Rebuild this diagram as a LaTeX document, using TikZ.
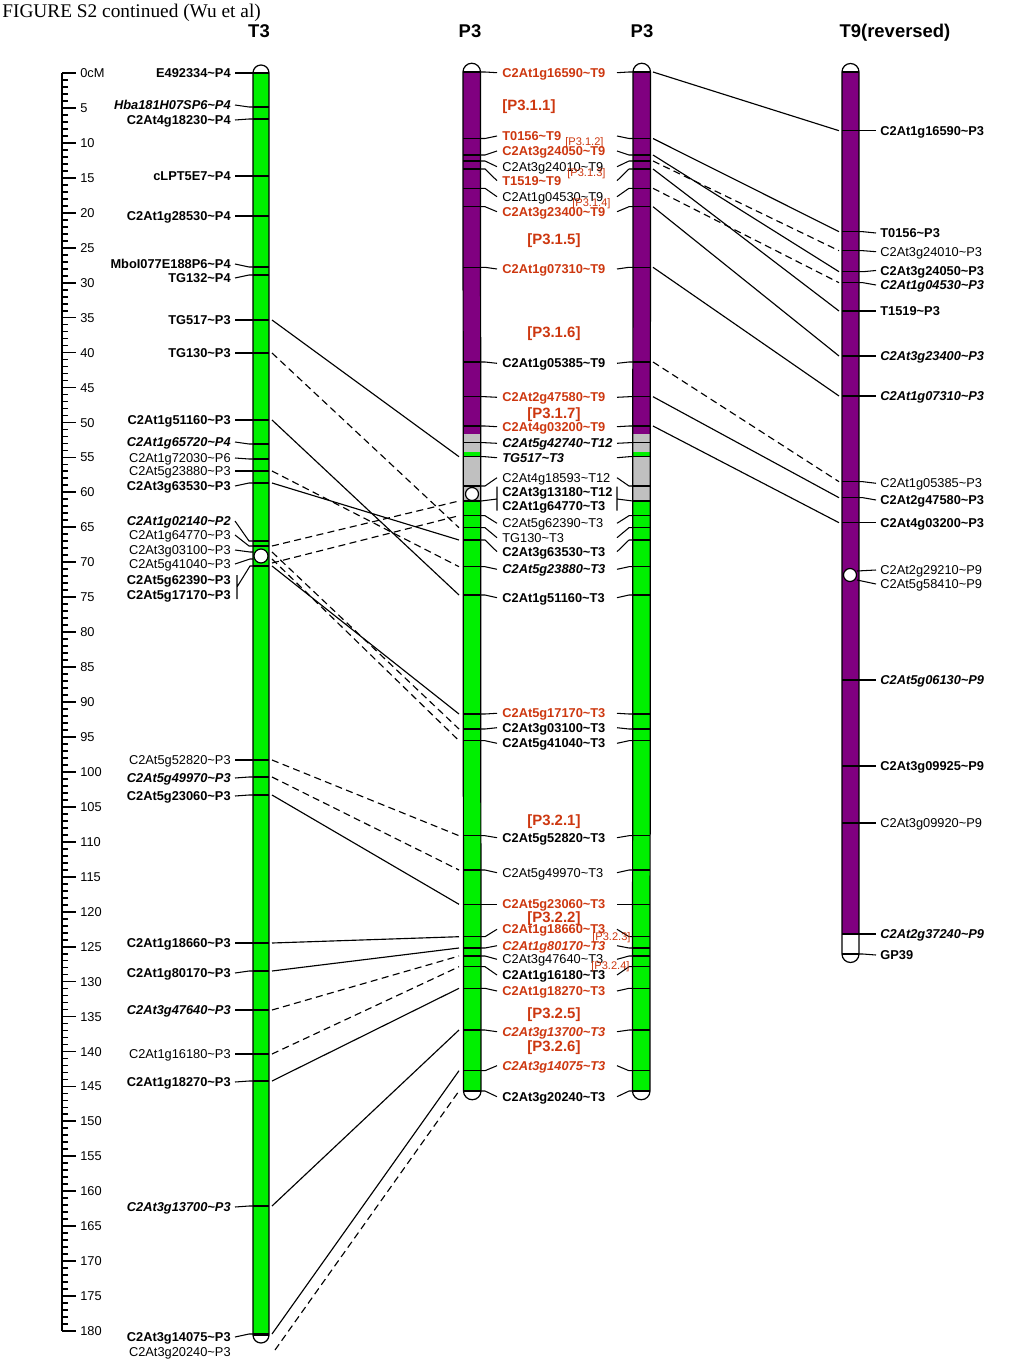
\documentclass[tikz,border=0pt]{standalone}
\usepackage{fontspec}
\setmainfont{Liberation Sans}
\newfontfamily\titlefont{Liberation Serif}
\definecolor{chrgreen}{RGB}{0,240,0}
\definecolor{chrpurple}{RGB}{128,0,128}
\definecolor{chrgray}{RGB}{192,192,192}
\definecolor{mkred}{RGB}{205,55,15}
\newcommand\tlde{\textasciitilde}

\begin{document}
\begin{tikzpicture}
    [x=0.02cm,y=-0.02cm,
     chrom/.style={draw, line width=0.7pt},
     mtick/.style={line width=0.7pt},
     lead/.style={line width=0.6pt},
     lnk/.style={line width=0.65pt},
     lnkd/.style={lnk, dash pattern=on 4pt off 2.5pt},
     ruler/.style={line width=1pt},
     mk/.style={inner sep=0pt, text height=5.2pt, text depth=0pt, font=\fontsize{7.3}{8}\selectfont},
     mkn/.style={mk},
     mkb/.style={mk, font=\fontsize{7.3}{8}\selectfont\bfseries},
     mkbi/.style={mk, font=\fontsize{7.3}{8}\selectfont\bfseries\itshape},
     mkrb/.style={mkb, text=mkred},
     mkrbi/.style={mkbi, text=mkred},
     hd/.style={inner sep=0pt, text height=7.5pt, text depth=0pt, font=\fontsize{10.5}{12}\selectfont\bfseries},
     grp/.style={inner sep=0pt, text height=6.1pt, text depth=0pt, text=mkred, font=\fontsize{8.5}{10}\selectfont\bfseries},
     sgrp/.style={inner sep=0pt, text height=4.5pt, text depth=0pt, text=mkred, font=\fontsize{6.3}{7}\selectfont}]
  \useasboundingbox (0,0) rectangle (1024,1365);

  \node[anchor=west, inner sep=0pt, text height=7.3pt, text depth=0pt, font=\titlefont\fontsize{11}{13}\selectfont] (title) at (2,11) {FIGURE S2 continued (Wu et al)};
  \node[hd] (hT3) at (259,31) {T3};
  \node[hd] (hP3a) at (470,31) {P3};
  \node[hd] (hP3b) at (642,31) {P3};
  \node[hd] (hT9) at (895,31) {T9(reversed)};

  % scale in cM
  \draw[ruler] (62,73) -- (62,1331);
  \foreach \c in {0,...,180}
    \draw[ruler] (62,{73+6.989*\c}) -- ++(6,0);
  \foreach \c in {5,10,...,180} {
    \draw[ruler] (62,{73+6.989*\c}) -- ++(14,0);
    \node[mkn, anchor=west] (cm\c) at (80,{73+6.989*\c}) {\c};
  }
  \draw[ruler] (62,73) -- ++(14,0);
  \node[mkn, anchor=west] (cm0) at (80,73) {0cM};

  % chromosomes
  \fill[chrgreen] (253,73) rectangle (269,1335);
  \draw[chrom] (253,73) arc[start angle=180, end angle=0, radius=0.16cm] -- (269,1335)
    arc[start angle=0, end angle=-180, radius=0.16cm] -- cycle;
  \draw[chrom] (253,73) -- (269,73) (253,1335) -- (269,1335);

  \foreach \xl/\xr in {463/481,633/650} {
    \fill[chrpurple] (\xl,72) rectangle (\xr,434);
    \fill[chrgray] (\xl,434) rectangle (\xr,452);
    \fill[chrgreen] (\xl,452) rectangle (\xr,457);
    \fill[chrgray] (\xl,457) rectangle (\xr,501);
    \fill[chrgreen] (\xl,501) rectangle (\xr,1091);
    \draw[chrom] (\xl,72) arc[start angle=180, end angle=0, radius=0.175cm] -- (\xr,1091)
      arc[start angle=0, end angle=-180, radius=0.175cm] -- cycle;
    \draw[chrom] (\xl,72) -- (\xr,72) (\xl,1091) -- (\xr,1091);
  }

  \fill[chrpurple] (842,72) rectangle (859,934);
  \draw[chrom] (842,72) arc[start angle=180, end angle=0, radius=0.17cm] -- (859,954)
    arc[start angle=0, end angle=-180, radius=0.17cm] -- cycle;
  \draw[chrom] (842,72) -- (859,72);

  % T3 markers
  \foreach \id/\ym/\yl/\sty/\lab in {
      E492334/73/73/mkb/E492334\tlde P4,
      Hba181/107/105/mkbi/Hba181H07SP6\tlde P4,
      4g18230/119/120/mkb/C2At4g18230\tlde P4,
      cLPT5E7/176/176/mkb/cLPT5E7\tlde P4,
      1g28530/216/216/mkb/C2At1g28530\tlde P4,
      MboI077/267/264/mkb/MboI077E188P6\tlde P4,
      TG132/275/278/mkb/TG132\tlde P4,
      TG517/320/320/mkb/TG517\tlde P3,
      TG130/353/353/mkb/TG130\tlde P3,
      1g51160/420/420/mkb/C2At1g51160\tlde P3,
      1g65720/444/442/mkbi/C2At1g65720\tlde P4,
      1g72030/459/458/mkn/C2At1g72030\tlde P6,
      5g23880/471/471/mkn/C2At5g23880\tlde P3,
      3g63530/483/486/mkb/C2At3g63530\tlde P3,
      1g02140/541/521/mkbi/C2At1g02140\tlde P2,
      1g64770/546/535/mkn/C2At1g64770\tlde P3,
      5g52820/760/760/mkn/C2At5g52820\tlde P3,
      5g49970/777/778/mkbi/C2At5g49970\tlde P3,
      5g23060/795/796/mkb/C2At5g23060\tlde P3,
      1g18660/943/943/mkb/C2At1g18660\tlde P3,
      1g80170/971/973/mkb/C2At1g80170\tlde P3,
      3g47640/1010/1010/mkbi/C2At3g47640\tlde P3,
      1g16180/1054/1054/mkn/C2At1g16180\tlde P3,
      1g18270/1081/1082/mkb/C2At1g18270\tlde P3,
      3g13700/1206/1207/mkbi/C2At3g13700\tlde P3,
      3g14075/1334/1337/mkb/C2At3g14075\tlde P3} {
    \draw[mtick] (253,\ym) -- (269,\ym);
    \draw[lead] (235,\yl) -- (249,\ym) -- (253,\ym);
    \node[\sty, anchor=east] (t3-\id) at (231,\yl) {\lab};
    \coordinate (t3-\id-x) at (272,\ym);
  }
  \foreach \id/\ym/\yl in {3g03100/552/550, 5g41040/559/564} {
    \draw[lead] (235,\yl) -- (250,\ym) -- (253,\ym);
    \node[mkn, anchor=east] (t3-\id) at (231,\yl) {C2At\id\tlde P3};
    \coordinate (t3-\id-x) at (272,\ym);
  }
  \draw[mtick] (253,566) -- (269,566);
  \draw[lead] (237,575) -- (237,599) (237,587) -- (250,566) -- (253,566);
  \node[mkb, anchor=east] (t3-5g62390) at (231,580) {C2At5g62390\tlde P3};
  \node[mkb, anchor=east] (t3-5g17170) at (231,595) {C2At5g17170\tlde P3};
  \coordinate (t3-5g62390-x) at (272,563);
  \coordinate (t3-5g17170-x) at (272,566);
  \node[mkn, anchor=east] (t3-3g20240) at (231,1352) {C2At3g20240\tlde P3};
  \coordinate (t3-3g20240-x) at (275,1350);
  \draw[chrom, fill=white] (261,556) circle[radius=0.14cm];

  % P3 markers, same on both copies
  \foreach \id/\ym/\yl/\sty/\lab in {
      1g16590/72/72.7/mkrb/C2At1g16590\tlde T9,
      T0156/138.5/136/mkrb/T0156\tlde T9,
      3g24050/155/151/mkrb/C2At3g24050\tlde T9,
      3g24010/161/166.7/mkn/C2At3g24010\tlde T9,
      T1519/169/180.7/mkrb/T1519\tlde T9,
      1g04530/188.3/196.7/mkn/C2At1g04530\tlde T9,
      3g23400/206.7/211.7/mkrb/C2At3g23400\tlde T9,
      1g07310/267.3/269/mkrb/C2At1g07310\tlde T9,
      1g05385/362/363.3/mkb/C2At1g05385\tlde T9,
      2g47580/396.7/397.3/mkrb/C2At2g47580\tlde T9,
      4g03200/426/426.7/mkrb/C2At4g03200\tlde T9,
      5g42740/442.7/443.3/mkbi/C2At5g42740\tlde T12,
      TG517/456.7/457.7/mkbi/TG517\tlde T3,
      4g18593/486/477.7/mkn/C2At4g18593\tlde T12,
      5g62390/515.7/523.3/mkn/C2At5g62390\tlde T3,
      TG130/527.7/537.7/mkn/TG130\tlde T3,
      3g63530/540/551.7/mkb/C2At3g63530\tlde T3,
      5g23880/566.7/569.3/mkbi/C2At5g23880\tlde T3,
      1g51160/595/597.7/mkb/C2At1g51160\tlde T3,
      5g17170/714/713.3/mkrb/C2At5g17170\tlde T3,
      3g03100/729/727.7/mkb/C2At3g03100\tlde T3,
      5g41040/740.7/743.3/mkb/C2At5g41040\tlde T3,
      5g52820/835.7/837.7/mkb/C2At5g52820\tlde T3,
      5g49970/870/872.7/mkn/C2At5g49970\tlde T3,
      5g23060/904.3/904.3/mkrb/C2At5g23060\tlde T3,
      1g18660/936.7/929.3/mkrb/C2At1g18660\tlde T3,
      1g80170/948/945.7/mkrbi/C2At1g80170\tlde T3,
      3g47640/956/959.3/mkn/C2At3g47640\tlde T3,
      1g16180/966.7/975/mkb/C2At1g16180\tlde T3,
      1g18270/988.3/991/mkrb/C2At1g18270\tlde T3,
      3g13700/1030/1031.7/mkrbi/C2At3g13700\tlde T3,
      3g14075/1070.7/1065.7/mkrbi/C2At3g14075\tlde T3,
      3g20240/1091/1096.7/mkb/C2At3g20240\tlde T3} {
    \draw[mtick] (463,\ym) -- (481,\ym) (633,\ym) -- (650,\ym);
    \draw[lead] (481,\ym) -- (485,\ym) -- (497,\yl) (617,\yl) -- (629,\ym) -- (633,\ym);
    \node[\sty, anchor=west] (p3-\id) at (502,\yl) {\lab};
    \coordinate (p3a-\id) at (459,\ym);
    \coordinate (p3b-\id) at (653,\ym);
  }
  \draw[mtick] (463,501) -- (481,501) (633,501) -- (650,501);
  \draw[lead] (497,486.5) -- (497,510.5) (497,499) -- (481,501);
  \draw[lead] (617,486.5) -- (617,510.5) (617,499) -- (633,501);
  \node[mkb, anchor=west] (p3-3g13180) at (502,491.7) {C2At3g13180\tlde T12};
  \node[mkb, anchor=west] (p3-1g64770) at (502,506) {C2At1g64770\tlde T3};
  \coordinate (p3a-1g64770) at (459,501);
  \draw[chrom, fill=white] (472,494) circle[radius=0.13cm];

  % P3 segments
  \foreach \id/\x/\y/\lab in {311/502/105/{[P3.1.1]}, 315/527/239/{[P3.1.5]},
      316/527/332/{[P3.1.6]}, 317/527/413/{[P3.1.7]}, 321/527/820/{[P3.2.1]},
      322/527/917/{[P3.2.2]}, 325/527/1013/{[P3.2.5]}, 326/527/1046/{[P3.2.6]}}
    \node[grp, anchor=west] (g\id) at (\x,\y) {\lab};
  \foreach \id/\x/\y/\lab in {312/565/141.7/{[P3.1.2]}, 313/567/173/{[P3.1.3]},
      314/572/203/{[P3.1.4]}, 323/592/937/{[P3.2.3]}, 324/591/966/{[P3.2.4]}}
    \node[sgrp, anchor=west] (g\id) at (\x,\y) {\lab};

  % T9 markers
  \foreach \id/\ym/\yl/\sty/\lab in {
      1g16590/130.7/130.7/mkb/C2At1g16590\tlde P3,
      T0156/231.7/233/mkb/T0156\tlde P3,
      3g24010/250.7/251.7/mkn/C2At3g24010\tlde P3,
      3g24050/271.7/270.5/mkb/C2At3g24050\tlde P3,
      1g04530/282.7/285/mkbi/C2At1g04530\tlde P3,
      T1519/311/311/mkb/T1519\tlde P3,
      3g23400/356/356/mkbi/C2At3g23400\tlde P3,
      1g07310/396/396/mkbi/C2At1g07310\tlde P3,
      1g05385/481.7/483.3/mkn/C2At1g05385\tlde P3,
      2g47580/497.7/500/mkb/C2At2g47580\tlde P3,
      4g03200/522.7/522.7/mkb/C2At4g03200\tlde P3,
      5g06130/680/680/mkbi/C2At5g06130\tlde P9,
      3g09925/766/766/mkb/C2At3g09925\tlde P9,
      3g09920/823/823/mkn/C2At3g09920\tlde P9,
      2g37240/934/934/mkbi/C2At2g37240\tlde P9,
      GP39/954/955/mkb/GP39} {
    \draw[mtick] (842,\ym) -- (859,\ym);
    \draw[lead] (859,\ym) -- (863,\ym) -- (876,\yl);
    \node[\sty, anchor=west] (t9-\id) at (880,\yl) {\lab};
    \coordinate (t9-\id-x) at (839,\ym);
  }
  \foreach \id/\ym/\yl in {2g29210/571/570, 5g58410/580/584} {
    \draw[lead] (857,\ym) -- (876,\yl);
    \node[mkn, anchor=west] (t9-\id) at (880,\yl) {C2At\id\tlde P9};
  }
  \draw[chrom, fill=white] (850,575) circle[radius=0.13cm];

  % links T3 - P3
  \foreach \n in {TG517, 1g51160, 3g63530, 5g17170, 5g23060, 1g18660, 1g80170, 1g18270, 3g13700, 3g14075}
    \draw[lnk] (t3-\n-x) -- (p3a-\n);
  \foreach \n in {TG130, 5g23880, 1g64770, 3g03100, 5g41040, 5g62390, 5g52820, 5g49970, 3g47640, 1g16180, 3g20240}
    \draw[lnkd] (t3-\n-x) -- (p3a-\n);

  % links P3 - T9
  \foreach \n in {1g16590, T0156, 3g24050, T1519, 3g23400, 1g07310, 2g47580, 4g03200}
    \draw[lnk] (p3b-\n) -- (t9-\n-x);
  \foreach \n in {3g24010, 1g04530, 1g05385}
    \draw[lnkd] (p3b-\n) -- (t9-\n-x);
\end{tikzpicture}
\end{document}
